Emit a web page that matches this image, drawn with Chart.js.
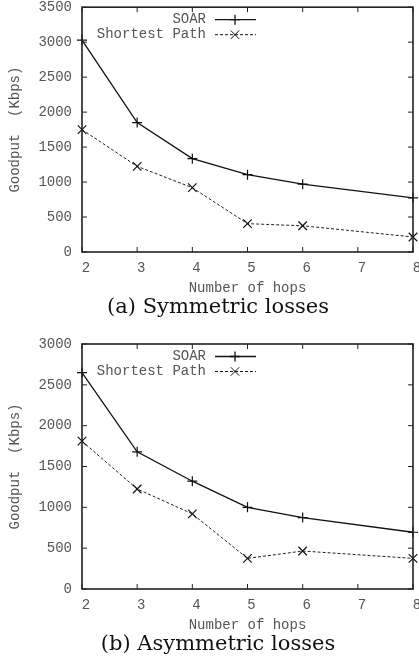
<!DOCTYPE html>
<html>
<head>
<meta charset="utf-8">
<script src="https://cdn.jsdelivr.net/npm/chart.js@4.4.1/dist/chart.umd.min.js"></script>
<style>
html, body { margin: 0; padding: 0; background: #fff; overflow: hidden; }
#page { position: relative; width: 419px; height: 662px; overflow: hidden; }
canvas { position: absolute; left: 0; }
.cap { position: absolute; left: 0; width: 436px; text-align: center; font-family: "DejaVu Serif", serif; font-size: 21px; line-height: 26px; color: #111; }
</style>
</head>
<body>
<div id="page">
  <canvas id="chartA" width="430" height="298" style="top:0"></canvas>
  <div class="cap" style="top:293px">(a) Symmetric losses</div>
  <canvas id="chartB" width="430" height="304" style="top:331px"></canvas>
  <div class="cap" style="top:630px">(b) Asymmetric losses</div>
</div>
<script>
// data
const hops = [2, 3, 4, 5, 6, 8];
const soarSym = [3030, 1850, 1335, 1105, 970, 775];
const shortSym = [1750, 1225, 920, 405, 375, 215];
const soarAsym = [2650, 1680, 1320, 1000, 875, 695];
const shortAsym = [1810, 1225, 920, 375, 465, 375];
const seriesNames = ["SOAR", "Shortest Path"];

const mono = "'Liberation Mono', 'DejaVu Sans Mono', monospace";
const grey = "#555";

const pts = (vals) => vals.map((v, i) => ({ x: hops[i], y: v }));

// gnuplot style box, inward ticks and key inside the plot
const frameAndKey = {
    id: "frameAndKey",
    afterDatasetsDraw(chart) {
        const { ctx, chartArea: a, scales } = chart;
        const x = scales.x, y = scales.y;
        ctx.save();
        ctx.strokeStyle = "#222";
        ctx.lineWidth = 1;
        x.ticks.forEach((t) => {
            const px = x.getPixelForValue(t.value);
            ctx.beginPath();
            ctx.moveTo(px, a.bottom); ctx.lineTo(px, a.bottom - 5);
            ctx.moveTo(px, a.top); ctx.lineTo(px, a.top + 5);
            ctx.stroke();
        });
        y.ticks.forEach((t) => {
            const py = y.getPixelForValue(t.value);
            ctx.beginPath();
            ctx.moveTo(a.left, py); ctx.lineTo(a.left + 5, py);
            ctx.moveTo(a.right, py); ctx.lineTo(a.right - 5, py);
            ctx.stroke();
        });
        ctx.lineWidth = 1.6;
        ctx.strokeRect(a.left, a.top, a.right - a.left, a.bottom - a.top);

        // key
        ctx.font = "14px " + mono;
        ctx.textAlign = "right";
        ctx.textBaseline = "middle";
        chart.data.datasets.forEach((ds, i) => {
            const ry = a.top + 12.5 + i * 15;
            ctx.fillStyle = grey;
            ctx.fillText(ds.label, a.left + 124, ry);
            ctx.strokeStyle = "#111";
            ctx.lineWidth = ds.borderWidth;
            ctx.setLineDash(ds.borderDash || []);
            ctx.beginPath();
            ctx.moveTo(a.left + 133, ry);
            ctx.lineTo(a.left + 174, ry);
            ctx.stroke();
            ctx.setLineDash([]);
            Chart.helpers.drawPoint(ctx, {
                pointStyle: ds.pointStyle,
                rotation: 0,
                radius: ds.pointRadius,
                borderWidth: 1.2,
            }, a.left + 153, ry);
        });
        ctx.restore();
    },
};

function makeChart(id, soar, shortest, yMax, topPad) {
    return new Chart(document.getElementById(id).getContext("2d"), {
        type: "line",
        data: {
            datasets: [
                {
                    label: seriesNames[0],
                    data: pts(soar),
                    borderColor: "#111",
                    borderWidth: 1.3,
                    pointStyle: "cross",
                    pointRadius: 5,
                    pointBorderWidth: 1.2,
                    pointBorderColor: "#111",
                    tension: 0,
                },
                {
                    label: seriesNames[1],
                    data: pts(shortest),
                    borderColor: "#222",
                    borderWidth: 1,
                    borderDash: [3, 2],
                    pointStyle: "crossRot",
                    pointRadius: 6,
                    pointBorderWidth: 1.2,
                    pointBorderColor: "#111",
                    tension: 0,
                },
            ],
        },
        options: {
            responsive: false,
            animation: false,
            clip: false,
            layout: { padding: { left: 0, right: 17, top: topPad, bottom: 0 } },
            plugins: { legend: { display: false }, tooltip: { enabled: false } },
            scales: {
                x: {
                    type: "linear",
                    min: 2,
                    max: 8,
                    border: { display: false },
                    grid: { display: false, drawTicks: false },
                    ticks: { stepSize: 1, padding: 8, labelOffset: 4, color: grey, font: { family: mono, size: 14 }, callback: (v) => String(v) },
                    title: { display: true, text: "Number of hops", color: grey, padding: { top: 0, bottom: 1 }, font: { family: mono, size: 14 } },
                    afterFit: (s) => { s.height = 46; s.paddingLeft = 0; s.paddingRight = 0; },
                },
                y: {
                    min: 0,
                    max: yMax,
                    border: { display: false },
                    grid: { display: false, drawTicks: false },
                    ticks: { stepSize: 500, padding: 10, color: grey, font: { family: mono, size: 14 }, callback: (v) => String(v) },
                    title: { display: true, text: "Goodput  (Kbps)", color: grey, padding: { top: 7, bottom: 0 }, font: { family: mono, size: 14 } },
                    afterFit: (s) => { s.width = 82; s.paddingTop = 0; s.paddingBottom = 0; },
                },
            },
        },
        plugins: [frameAndKey],
    });
}

makeChart("chartA", soarSym, shortSym, 3500, 5);
makeChart("chartB", soarAsym, shortAsym, 3000, 13);
</script>
</body>
</html>
